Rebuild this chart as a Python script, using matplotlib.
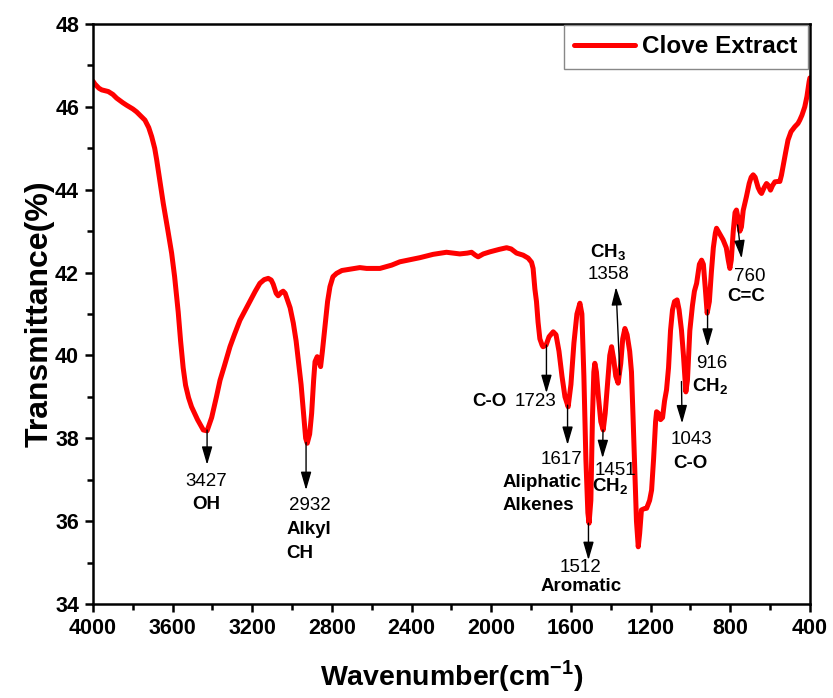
"""
FTIR spectrum of clove extract with band assignments
"""
import matplotlib
matplotlib.use('Agg')
import matplotlib.pyplot as plt
from matplotlib.ticker import MultipleLocator

plt.rcParams['font.family'] = ['Liberation Sans', 'DejaVu Sans']
plt.rcParams['mathtext.fontset'] = 'custom'
plt.rcParams['mathtext.rm'] = 'Liberation Sans'
plt.rcParams['mathtext.bf'] = 'Liberation Sans:bold'

# spectrum (cm-1, %T)
wavenumber = [
    4000, 3990, 3970, 3956, 3923, 3900, 3881, 3850, 3831, 3800, 3781, 3760,
    3739, 3720, 3705, 3690, 3680, 3665, 3647, 3625, 3605, 3590, 3572, 3560,
    3547, 3535, 3520, 3505, 3475, 3446, 3427, 3404, 3380, 3362, 3340, 3312, 3290,
    3262, 3240, 3212, 3185, 3162, 3140, 3120, 3105, 3095, 3080, 3070, 3055,
    3045, 3035, 3028, 3010, 2994, 2980, 2969, 2955, 2944, 2932, 2924, 2912,
    2902, 2892, 2885, 2874, 2865, 2857, 2848, 2835, 2822, 2810, 2795, 2777,
    2750, 2710, 2660, 2626, 2559, 2500, 2459, 2400, 2358, 2292, 2225, 2158,
    2120, 2099, 2080, 2066, 2040, 2007, 1960, 1923, 1900, 1873, 1840, 1815,
    1798, 1790, 1781, 1773, 1765, 1756, 1745, 1740, 1725, 1710, 1689, 1675,
    1660, 1645, 1630, 1614, 1600, 1585, 1570, 1555, 1545, 1535, 1525, 1515,
    1509, 1500, 1492, 1485, 1480, 1472, 1462, 1450, 1438, 1428, 1415, 1405,
    1396, 1385, 1375, 1363, 1350, 1340, 1329, 1318, 1305, 1296, 1288, 1280,
    1271, 1262, 1255, 1246, 1232, 1220, 1205, 1195, 1185, 1175, 1170, 1160,
    1150, 1140, 1130, 1120, 1110, 1100, 1090, 1080, 1067, 1057, 1045, 1035,
    1023, 1015, 1003, 990, 980, 969, 955, 944, 935, 925, 916, 905,
    895, 885, 875, 869, 855, 836, 820, 810, 802, 795, 785, 776,
    769, 760, 752, 744, 735, 719, 705, 695, 685, 675, 660, 650,
    643, 630, 618, 608, 598, 588, 576, 560, 551, 543, 535, 522,
    510, 495, 476, 460, 451, 440, 426, 415, 404, 400,
]
transmittance = [
    46.62, 46.55, 46.45, 46.41, 46.37, 46.30, 46.21, 46.10, 46.04, 45.95, 45.88, 45.78,
    45.68, 45.50, 45.28, 45.00, 44.72, 44.25, 43.67, 43.05, 42.47, 41.90, 41.05, 40.35,
    39.70, 39.28, 38.98, 38.76, 38.45, 38.20, 38.18, 38.50, 39.00, 39.40, 39.75, 40.21, 40.50,
    40.85, 41.05, 41.30, 41.55, 41.74, 41.83, 41.86, 41.82, 41.72, 41.50, 41.44, 41.52,
    41.55, 41.50, 41.40, 41.15, 40.78, 40.35, 39.89, 39.30, 38.68, 38.00, 37.88, 38.10,
    38.60, 39.40, 39.85, 39.97, 39.85, 39.73, 40.10, 40.69, 41.30, 41.66, 41.90, 41.98,
    42.05, 42.08, 42.12, 42.10, 42.10, 42.18, 42.26, 42.32, 42.36, 42.44, 42.49, 42.45,
    42.47, 42.49, 42.42, 42.38, 42.45, 42.50, 42.56, 42.60, 42.57, 42.47, 42.42, 42.35,
    42.25, 42.10, 41.60, 41.30, 40.80, 40.40, 40.25, 40.21, 40.25, 40.45, 40.57, 40.50,
    40.10, 39.50, 39.00, 38.76, 39.30, 40.30, 41.00, 41.26, 41.00, 39.50, 37.50, 36.20,
    35.95, 36.50, 38.50, 39.60, 39.81, 39.60, 39.00, 38.40, 38.20, 38.60, 39.40, 40.00,
    40.21, 39.90, 39.50, 39.33, 39.80, 40.40, 40.65, 40.50, 40.10, 39.60, 38.50, 37.30,
    36.00, 35.38, 35.70, 36.27, 36.30, 36.31, 36.50, 36.75, 37.50, 38.40, 38.64, 38.60,
    38.45, 38.50, 38.90, 39.17, 39.70, 40.60, 41.10, 41.30, 41.34, 41.10, 40.61, 40.00,
    39.12, 39.40, 40.60, 41.20, 41.55, 41.74, 42.20, 42.30, 42.20, 41.60, 41.02, 41.30,
    42.00, 42.60, 42.95, 43.07, 42.95, 42.79, 42.60, 42.30, 42.10, 42.30, 43.00, 43.45,
    43.51, 43.30, 43.00, 43.10, 43.50, 43.83, 44.15, 44.30, 44.36, 44.30, 44.05, 43.95,
    43.91, 44.05, 44.15, 44.10, 43.99, 44.10, 44.19, 44.20, 44.20, 44.35, 44.56, 44.90,
    45.20, 45.40, 45.52, 45.60, 45.68, 45.80, 46.00, 46.25, 46.61, 46.70,
]

# band annotations: arrow tail (on curve), arrow head, then text items
# text item = (x, y, string, bold, ha)
bands = [
    ((3427, 38.20), (3427, 37.36), [(3429, 36.95, '3427', False, 'center'),
                                    (3429, 36.39, 'OH', True, 'center')]),
    ((2930, 37.90), (2930, 36.75), [(2913, 36.37, '2932', False, 'center'),
                                    (3027, 35.79, 'Alkyl', True, 'left'),
                                    (3027, 35.23, 'CH', True, 'left')]),
    ((1723, 40.25), (1723, 39.09), [(1672, 38.88, '1723', False, 'right'),
                                    (1923, 38.88, 'C-O', True, 'right')]),
    ((1617, 38.80), (1617, 37.84), [(1647, 37.48, '1617', False, 'center'),
                                    (1943, 36.94, 'Aliphatic', True, 'left'),
                                    (1943, 36.37, 'Alkenes', True, 'left')]),
    ((1512, 35.95), (1512, 35.06), [(1550, 34.87, '1512', False, 'center'),
                                    (1550, 34.42, 'Aromatic', True, 'center')]),
    ((1439, 38.20), (1441, 37.52), [(1480, 37.23, '1451', False, 'left'),
                                    (1404, 36.83, r'CH$_\mathbf{2}$', True, 'center')]),
    ((1354, 39.53), (1374, 41.65), [(1413, 41.95, '1358', False, 'center'),
                                    (1413, 42.47, r'CH$_\mathbf{3}$', True, 'center')]),
    ((1045, 39.37), (1042, 38.36), [(994, 37.96, '1043', False, 'center'),
                                    (1002, 37.40, 'C-O', True, 'center')]),
    ((914, 41.10), (914, 40.21), [(894, 39.81, '916', False, 'center'),
                                  (902, 39.25, r'CH$_\mathbf{2}$', True, 'center')]),
    ((763, 43.15), (743, 42.34), [(701, 41.90, '760', False, 'center'),
                                  (718, 41.42, 'C=C', True, 'center')]),
]

fig = plt.figure(figsize=(8.33, 6.98), dpi=100)
ax = fig.add_axes([0.1116, 0.1347, 0.8607, 0.8309])

ax.plot(wavenumber, transmittance, color='#ff0000', linewidth=3.6,
        solid_capstyle='round', solid_joinstyle='round', label='Clove Extract')

for tail, head, texts in bands:
    ax.annotate('', xy=head, xytext=tail,
                arrowprops=dict(arrowstyle='-|>,head_length=1.1,head_width=0.32',
                                mutation_scale=10, color='black', lw=1.0,
                                shrinkA=0, shrinkB=0))
    for x, y, s, bold, ha in texts:
        ax.text(x, y, s, fontsize=13.5, fontweight='bold' if bold else 'normal',
                ha=ha, va='center', color='black')

ax.set_xlim(4000, 400)
ax.set_ylim(34, 48)
ax.xaxis.set_major_locator(MultipleLocator(400))
ax.xaxis.set_minor_locator(MultipleLocator(200))
ax.yaxis.set_major_locator(MultipleLocator(2))
ax.yaxis.set_minor_locator(MultipleLocator(1))
ax.tick_params(which='both', direction='out', width=1.8, top=False, right=False)
ax.tick_params(which='major', length=6, labelsize=15.5, pad=4)
ax.tick_params(which='minor', length=4)
for lab in ax.get_xticklabels() + ax.get_yticklabels():
    lab.set_fontweight('bold')
for sp in ax.spines.values():
    sp.set_linewidth(1.8)

ax.set_xlabel(r'Wavenumber(cm$^{\mathbf{-1}}$)', fontsize=20.5, fontweight='bold', labelpad=14)
ax.set_ylabel('Transmittance(%)', fontsize=23, fontweight='bold', labelpad=0)

leg = ax.legend(loc='upper right', bbox_to_anchor=(0.997, 0.998), borderaxespad=0,
                prop={'size': 17.5, 'weight': 'bold'}, handlelength=2.5,
                handletextpad=0.3, borderpad=0.42, fancybox=False, framealpha=1)
leg.get_frame().set_edgecolor('#888888')
leg.get_frame().set_linewidth(1.0)

plt.savefig('out.png', dpi=100)
